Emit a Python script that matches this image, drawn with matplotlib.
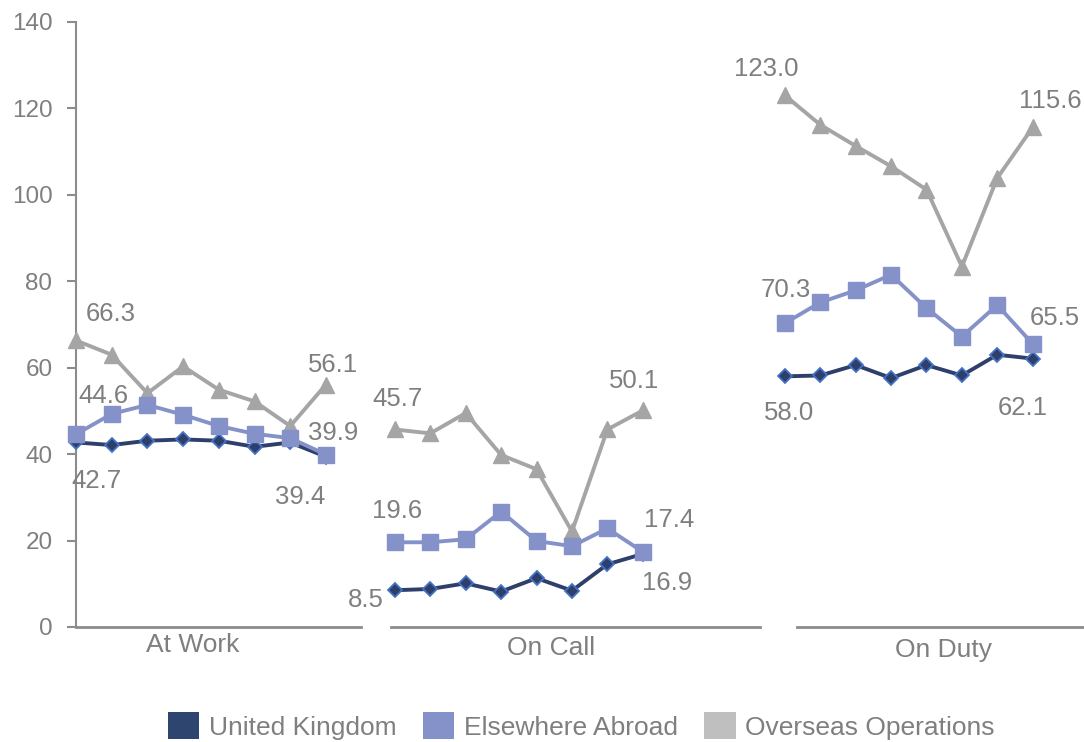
import matplotlib.pyplot as plt
from matplotlib.patches import Patch

plt.rcParams['font.family'] = ['Liberation Sans', 'DejaVu Sans']

groups = ["At Work", "On Call", "On Duty"]
series = ["United Kingdom", "Elsewhere Abroad", "Overseas Operations"]

# values per group, 8 periods each
uk = {
    "At Work": [42.7, 42.1, 43.1, 43.4, 43.1, 41.7, 42.7, 39.4],
    "On Call": [8.5, 8.8, 10.1, 8.2, 11.3, 8.4, 14.5, 16.9],
    "On Duty": [58.0, 58.2, 60.6, 57.6, 60.6, 58.2, 63.0, 62.1],
}
abroad = {
    "At Work": [44.6, 49.3, 51.4, 49.1, 46.5, 44.7, 43.7, 39.9],
    "On Call": [19.6, 19.6, 20.3, 26.7, 19.9, 18.7, 22.8, 17.4],
    "On Duty": [70.3, 75.1, 77.9, 81.5, 73.8, 67.2, 74.5, 65.5],
}
overseas = {
    "At Work": [66.3, 63.0, 54.1, 60.3, 54.9, 52.2, 46.5, 56.1],
    "On Call": [45.7, 44.8, 49.5, 39.8, 36.5, 22.1, 45.7, 50.1],
    "On Duty": [123.0, 116.2, 111.3, 106.6, 101.2, 83.4, 103.9, 115.6],
}

txt = '#7f7f7f'
ax_col = '#8c8c8c'
styles = [
    dict(color='#2e3f6b', marker='D', ms=7.5, mfc='#2e3f6b', mec='#4472c4', mew=1.3, zorder=3),
    dict(color='#8591c9', marker='s', ms=11, mfc='#8591c9', mec='#8591c9', zorder=5),
    dict(color='#a5a5a5', marker='^', ms=11, mfc='#a5a5a5', mec='#a5a5a5', zorder=4),
]

# label offsets in pixels (first point, last point) per group and series
label_off = {
    "At Work": [((20, -39), (-26, -40)), ((27, 38), (7, 22)), ((35, 26), (7, 20))],
    "On Call": [((-29, -10), (24, -29)), ((2, 31), (26, 32)), ((3, 30), (-9, 29))],
    "On Duty": [((4, -37), (-10, -49)), ((1, 33), (22, 26)), ((-19, 26), (18, 26))],
}

fig = plt.figure(figsize=(10.84, 7.42), dpi=100)
bottom, height = 0.155, 0.8154
rects = [(0.0701, 0.2629), (0.3607, 0.3404), (0.7352, 0.2648)]
xlims = [(0, 7.98), (-0.11, 10.31), (0.34, 8.45)]
cat_pos = [(0.41, -0.030), (0.435, -0.035), (0.51, -0.038)]

for i, g in enumerate(groups):
    left, width = rects[i]
    ax = fig.add_axes([left, bottom, width, height])
    ax.set_xlim(*xlims[i])
    ax.set_ylim(0, 140)
    for sp in ['top', 'right']:
        ax.spines[sp].set_visible(False)
    ax.spines['bottom'].set_color(ax_col)
    ax.spines['bottom'].set_linewidth(2)
    ax.set_xticks([])
    if i == 0:
        ax.spines['left'].set_color(ax_col)
        ax.spines['left'].set_linewidth(1.5)
        ax.set_yticks(range(0, 141, 20))
        ax.tick_params(axis='y', colors=ax_col, labelcolor=txt, labelsize=17.5,
                       length=6.5, width=1.5, pad=10.5)
    else:
        ax.spines['left'].set_visible(False)
        ax.set_yticks([])
    ax.text(cat_pos[i][0], cat_pos[i][1], g, transform=ax.transAxes,
            ha='center', va='center', fontsize=19, color=txt)

    xs = list(range(8))
    for j, data in enumerate([uk, abroad, overseas]):
        vals = data[g]
        ax.plot(xs, vals, lw=2.8, clip_on=False, **styles[j])
        for k, idx in enumerate([0, 7]):
            dx, dy = label_off[g][j][k]
            ax.annotate(f"{vals[idx]:.1f}", (xs[idx], vals[idx]), xytext=(dx, dy),
                        textcoords='offset pixels', ha='center', va='center',
                        fontsize=18.5, color=txt, annotation_clip=False)

handles = [Patch(facecolor=c, edgecolor='none') for c in ['#2e4570', '#8591c9', '#bfbfbf']]
fig.legend(handles, series, loc='center', bbox_to_anchor=(0.536, 0.0216), ncol=3,
           frameon=False, fontsize=19, labelcolor=txt, handlelength=1.2,
           handleheight=1.2, handletextpad=0.35, columnspacing=1.0,
           borderpad=0, borderaxespad=0)

fig.savefig('out.png', dpi=100)
